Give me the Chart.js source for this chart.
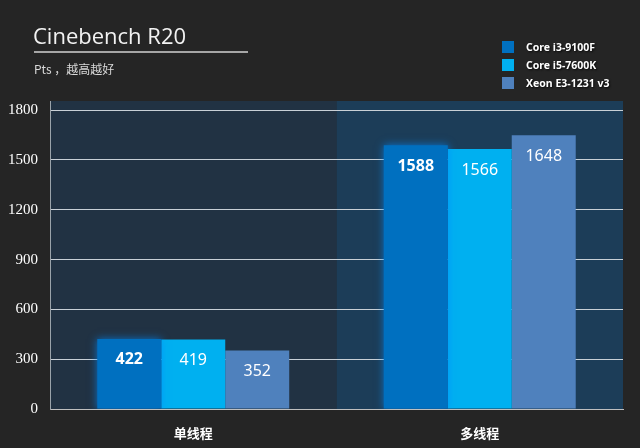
<!DOCTYPE html>
<html>
<head>
<meta charset="utf-8">
<script src="https://cdn.jsdelivr.net/npm/chart.js@4"></script>
<style>
  html, body { margin: 0; padding: 0; background: #252525; }
  #wrap { width: 640px; height: 448px; position: relative; }
</style>
</head>
<body>
<div id="wrap"><canvas id="c" width="640" height="448"></canvas></div>
<script>
const categories = ["单线程", "多线程"];
const cpuNames = ["Core i3-9100F", "Core i5-7600K", "Xeon E3-1231 v3"];
const i3Scores = [422, 1588];
const i5Scores = [419, 1566];
const xeonScores = [352, 1648];
const yTicks = [0, 300, 600, 900, 1200, 1500, 1800];

const barColors = ["#0070c0", "#00b0f0", "#4f81bd"];
const panelColors = ["#213243", "#1c3d58"];

// title, subtitle, legend, panels, value labels
const decor = {
    id: "decor",
    beforeDraw(chart) {
        const { ctx, chartArea } = chart;
        ctx.save();
        const step = (chartArea.right - chartArea.left) / categories.length;
        categories.forEach((c, i) => {
            ctx.fillStyle = panelColors[i];
            ctx.fillRect(chartArea.left + step * i, chartArea.top, step, chartArea.bottom - chartArea.top);
        });

        ctx.fillStyle = "#f2f2f2";
        ctx.font = "22px 'Open Sans', 'Noto Sans', sans-serif";
        ctx.textBaseline = "alphabetic";
        ctx.textAlign = "left";
        ctx.fillText("Cinebench R20", 33, 44);
        ctx.fillStyle = "#a6a6a6";
        ctx.fillRect(34, 51, 214, 2);
        ctx.fillStyle = "#d9d9d9";
        ctx.font = "12px 'Noto Sans CJK SC', sans-serif";
        ctx.fillText("Pts ，越高越好", 34, 74);

        ctx.font = "bold 10.5px 'Noto Sans', sans-serif";
        cpuNames.forEach((n, i) => {
            const y = 41 + i * 18;
            ctx.fillStyle = barColors[i];
            ctx.fillRect(502, y, 12, 12);
            ctx.fillStyle = "#ffffff";
            ctx.shadowColor = "rgba(0,0,0,0.8)";
            ctx.shadowBlur = 2;
            ctx.shadowOffsetX = 1;
            ctx.shadowOffsetY = 1;
            ctx.fillText(n, 526, y + 10);
            ctx.shadowColor = "transparent";
        });
        ctx.restore();
    },
    beforeDatasetDraw(chart, args) {
        if (args.index === 0) {
            const ctx = chart.ctx;
            ctx.save();
            ctx.shadowColor = "rgba(0,140,255,0.7)";
            ctx.shadowBlur = 8;
        }
    },
    afterDatasetDraw(chart, args) {
        if (args.index === 0) chart.ctx.restore();
    },
    afterDatasetsDraw(chart) {
        const { ctx } = chart;
        ctx.save();
        ctx.textAlign = "center";
        ctx.textBaseline = "middle";
        ctx.fillStyle = "#ffffff";
        chart.data.datasets.forEach((ds, di) => {
            const meta = chart.getDatasetMeta(di);
            ctx.font = (di === 0 ? "bold " : "") + "16px 'Noto Sans', sans-serif";
            meta.data.forEach((bar, i) => {
                ctx.fillText(ds.data[i], bar.x, bar.y + 21);
            });
        });
        ctx.restore();
    }
};

new Chart(document.getElementById("c"), {
    type: "bar",
    data: {
        labels: categories,
        datasets: [
            { label: cpuNames[0], data: i3Scores, backgroundColor: barColors[0] },
            { label: cpuNames[1], data: i5Scores, backgroundColor: barColors[1] },
            { label: cpuNames[2], data: xeonScores, backgroundColor: barColors[2] }
        ]
    },
    options: {
        responsive: false,
        animation: false,
        events: [],
        layout: { padding: { top: 101, right: 17, left: 0, bottom: 0 } },
        datasets: { bar: { categoryPercentage: 0.67, barPercentage: 1 } },
        plugins: { legend: { display: false }, tooltip: { enabled: false } },
        scales: {
            x: {
                grid: { display: false },
                border: { color: "#bfbfbf", width: 1 },
                ticks: {
                    color: "#ffffff",
                    font: { family: "'Noto Sans CJK SC'", size: 13, weight: "bold" },
                    padding: 8
                },
                afterFit(s) { s.height = 39; }
            },
            y: {
                min: 0,
                max: 1855,
                afterBuildTicks(s) { s.ticks = yTicks.map(v => ({ value: v })); },
                grid: { color: "#c8d0d6", lineWidth: 1, drawTicks: false },
                border: { color: "#9aa3aa", width: 1 },
                ticks: {
                    color: "#ffffff",
                    font: { family: "'Liberation Serif'", size: 15 },
                    padding: 12,
                    callback: v => String(v)
                },
                afterFit(s) { s.width = 50; }
            }
        }
    },
    plugins: [decor]
});
</script>
</body>
</html>
